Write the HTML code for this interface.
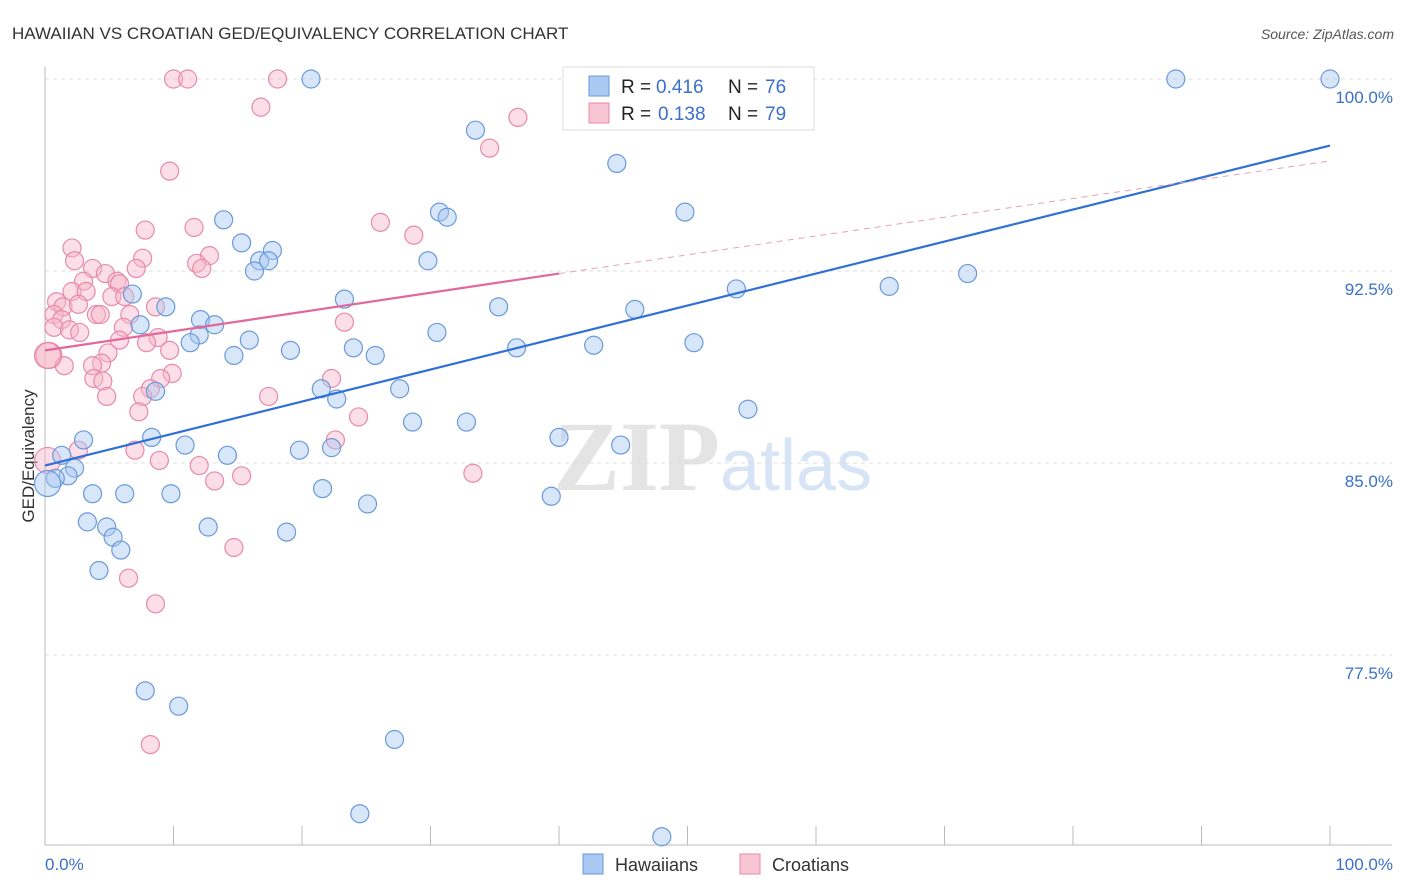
<!DOCTYPE html>
<html><head><meta charset="utf-8"><style>
body{margin:0;background:#fff;font-family:"Liberation Sans",sans-serif}
svg{display:block}
</style></head><body>
<svg id="c" width="1406" height="892" xmlns="http://www.w3.org/2000/svg"></svg>
<script>
const yTicks=[100,92.5,85,77.5];
const yTickLabels=["100.0%","92.5%","85.0%","77.5%"];
const hawX=[20.7,88,100,33.5,44.5,49.8,30.7,31.3,13.9,15.3,17.7,16.7,17.4,16.3,29.8,71.8,65.7,53.8,6.8,23.3,9.4,35.3,45.9,12.1,13.2,7.4,12,30.5,15.9,11.3,19.1,24,25.7,36.7,42.7,50.5,14.7,21.5,27.6,8.6,22.7,54.7,28.6,32.8,8.3,3,10.9,40,44.8,19.8,22.3,14.2,1.3,2.3,1.8,0.8,0.2,3.7,6.2,9.8,21.6,39.4,25.1,3.3,4.8,12.7,18.8,5.3,5.9,4.2,7.8,10.4,27.2,24.5,48];
const hawY=[100,100,100,98,96.7,94.8,94.8,94.6,94.5,93.6,93.3,92.9,92.9,92.5,92.9,92.4,91.9,91.8,91.6,91.4,91.1,91.1,91,90.6,90.4,90.4,90,90.1,89.8,89.7,89.4,89.5,89.2,89.5,89.6,89.7,89.2,87.9,87.9,87.8,87.5,87.1,86.6,86.6,86,85.9,85.7,86,85.7,85.5,85.6,85.3,85.3,84.8,84.5,84.4,84.2,83.8,83.8,83.8,84,83.7,83.4,82.7,82.5,82.5,82.3,82.1,81.6,80.8,76.1,75.5,74.2,71.3,70.4];
const croX=[10,11.1,18.1,16.8,36.8,34.6,9.7,26.1,11.6,28.7,7.8,2.1,12.8,7.6,2.3,11.8,12.2,3.7,7.1,4.7,5.6,3,5.8,2.1,3.2,5.2,0.9,6.2,1.4,2.6,0.7,4,6.6,8.6,1.3,4.3,0.7,1.9,2.7,6.1,8.8,23.3,5.8,7.9,0.3,4.9,9.7,1.5,4.4,3.7,3.8,9.9,9,4.5,8.2,22.3,4.8,7.6,17.4,7.3,24.4,22.6,2.6,7,8.9,12,13.2,15.3,33.3,14.7,6.5,8.6,8.2,0.2,0.2];
const croY=[100,100,100,98.9,98.5,97.3,96.4,94.4,94.2,93.9,94.1,93.4,93.1,93,92.9,92.8,92.6,92.6,92.6,92.4,92.1,92.1,92,91.7,91.7,91.5,91.3,91.5,91.1,91.2,90.8,90.8,90.8,91.1,90.6,90.8,90.3,90.2,90.1,90.3,89.9,90.5,89.8,89.7,89.2,89.3,89.4,88.8,88.9,88.8,88.3,88.5,88.3,88.2,87.9,88.3,87.6,87.6,87.6,87,86.8,85.9,85.5,85.5,85.1,84.9,84.3,84.5,84.6,81.7,80.5,79.5,74,85.1,89.2];
const hawLine=[0,84.9,100,97.4];
const croLine=[0,89.4,40,92.4,100,96.8];
const NS="http://www.w3.org/2000/svg",svg=document.getElementById('c');
const X0=45,X1=1330,Y100=79,PX=25.6;
const xs=v=>X0+(X1-X0)*v/100, ys=v=>Y100+(100-v)*PX;
function mk(t,a,p){const e=document.createElementNS(NS,t);for(const k in a)e.setAttribute(k,a[k]);(p||svg).appendChild(e);return e;}
function tx(x,y,s,a){const e=mk('text',Object.assign({x:x,y:y},a));e.textContent=s;return e;}
let t=tx(12,39,"HAWAIIAN VS CROATIAN GED/EQUIVALENCY CORRELATION CHART",{'font-size':17,fill:'#333'});

t=tx(1394,39,"Source: ZipAtlas.com",{'font-size':14,fill:'#555','text-anchor':'end','font-style':'italic'});

t=tx(720,490,"ZIP",{'font-size':100,fill:'#e4e4e4','text-anchor':'end','font-family':'Liberation Serif','font-weight':'bold'});

t=tx(720,490,"atlas",{'font-size':72,fill:'#d6e4f5'});

yTicks.forEach((v,i)=>{let g=mk('line',{x1:X0,x2:1392,y1:ys(v),y2:ys(v),stroke:'#ddd','stroke-dasharray':'4,4'});

let l=tx(1393,ys(v)+24,yTickLabels[i],{'font-size':17,fill:'#3a70c8','text-anchor':'end'});
});
let a=mk('line',{x1:X0,x2:X0,y1:67,y2:845,stroke:'#bbb'});
a=mk('line',{x1:X0,x2:1392,y1:845,y2:845,stroke:'#bbb'});
for(let i=0;i<=10;i++){let k=mk('line',{x1:xs(i*10),x2:xs(i*10),y1:826,y2:845,stroke:'#bbb'});}
t=tx(45,870,"0.0%",{'font-size':17,fill:'#3a70c8'});
t=tx(1393,870,"100.0%",{'font-size':17,fill:'#3a70c8','text-anchor':'end'});
t=tx(34,456,"GED/Equivalency",{'font-size':17,fill:'#333','text-anchor':'middle',transform:'rotate(-90 34 456)'});

function pts(X,Y,f,s,n){X.forEach((v,i)=>{const big=(v<0.5);let c=mk('circle',{cx:xs(v),cy:ys(Y[i]),r:big?13:9,fill:f,'fill-opacity':0.45,stroke:s,'stroke-width':1.2});
});}
pts(croX,croY,'#f7b6c9','#e88aa8','croatian-point');
pts(hawX,hawY,'#a9c8f2','#6a9ad8','hawaiian-point');
let r=mk('line',{x1:xs(hawLine[0]),y1:ys(hawLine[1]),x2:xs(hawLine[2]),y2:ys(hawLine[3]),stroke:'#2f6fd6','stroke-width':2.2});

r=mk('line',{x1:xs(croLine[0]),y1:ys(croLine[1]),x2:xs(croLine[2]),y2:ys(croLine[3]),stroke:'#e3689a','stroke-width':2.2});

r=mk('line',{x1:xs(croLine[2]),y1:ys(croLine[3]),x2:xs(croLine[4]),y2:ys(croLine[5]),stroke:'#e8a0b8','stroke-width':1,'stroke-dasharray':'6,5'});

let lg=mk('rect',{x:563,y:67,width:251,height:63,fill:'#fff','fill-opacity':0.9,stroke:'#ddd'});
[[0.416,76,'#a9c8f2','#6a9ad8',86],[0.138,79,'#f7c4d3','#e88aa8',113]].forEach((d,i)=>{
let s=mk('rect',{x:589,y:d[4]-10,width:20,height:20,fill:d[2],stroke:d[3]});
let e=tx(621,d[4]+7,"R = ",{'font-size':19,fill:'#222'});
e=tx(i?658:656,d[4]+7,d[0].toFixed(3),{'font-size':19,fill:'#3a70c8'});
e=tx(728,d[4]+7,"N = ",{'font-size':19,fill:'#222'});
e=tx(765,d[4]+7,String(d[1]),{'font-size':19,fill:'#3a70c8'});});
[[583,'#a9c8f2','#6a9ad8','Hawaiians'],[740,'#f7c4d3','#e88aa8','Croatians']].forEach(d=>{
let s=mk('rect',{x:d[0],y:854,width:20,height:20,fill:d[1],stroke:d[2]});
let e=tx(d[0]+32,871,d[3],{'font-size':18,fill:'#333'});});
</script>
</body></html>
